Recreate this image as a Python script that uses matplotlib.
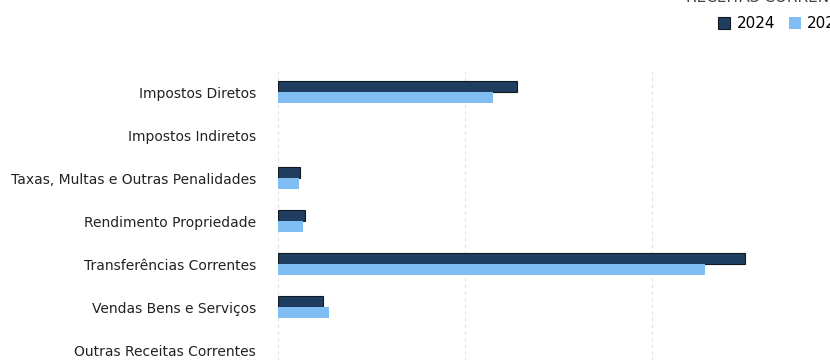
import matplotlib
matplotlib.use("Agg")
import matplotlib.pyplot as plt
import numpy as np

categorias = [
    "Impostos Diretos",
    "Impostos Indiretos",
    "Taxas, Multas e Outras Penalidades",
    "Rendimento Propriedade",
    "Transferências Correntes",
    "Vendas Bens e Serviços",
    "Outras Receitas Correntes",
]
anos = ["2024", "2023"]
valores_2024 = [1278, 0, 118, 144, 2497, 241, 0]
valores_2023 = [1150, 0, 112, 134, 2283, 273, 0]
cores = ["#1f3d5f", "#80bdf3"]

plt.rcParams["font.family"] = ["DejaVu Sans"]

fig = plt.figure(figsize=(8.3, 3.6), dpi=100)
ax = fig.add_axes([278 / 830, -0.032, (830 - 278) / 830, 0.836])

y = np.arange(len(categorias))
h = 0.26
# sem contorno nas barras de valor nulo
contorno = [0.8 if v else 0 for v in valores_2024]
ax.barh(y - h / 2, valores_2024, height=h, color=cores[0],
        edgecolor="#111a24", linewidth=contorno, label=anos[0], zorder=3)
ax.barh(y + h / 2, valores_2023, height=h, color=cores[1],
        linewidth=0, label=anos[1], zorder=3)

ax.set_ylim(len(categorias) - 0.5, -0.5)
ax.set_xlim(0, 2952)
ax.set_yticks(y)
ax.set_yticklabels(categorias, fontsize=10, color="#222222")
ax.set_xticks([0, 1000, 2000])
ax.set_xticklabels([])
ax.tick_params(axis="both", length=0, pad=16)
ax.grid(axis="x", color="#dde3ea", linestyle=(0, (3, 3)), linewidth=0.8, zorder=0)
for s in ax.spines.values():
    s.set_visible(False)

fig.text(686 / 830, 1 - 2.5 / 360, "RECEITAS CORRENTES", fontsize=11, color="#444444",
         va="baseline", ha="left")
fig.legend(loc="center left", bbox_to_anchor=(712 / 830, 1 - 24 / 360),
           frameon=False, ncol=2, fontsize=11, handlelength=0.8, handleheight=0.8,
           handletextpad=0.4, columnspacing=0.9, borderaxespad=0)

fig.savefig("out.png", dpi=100)
